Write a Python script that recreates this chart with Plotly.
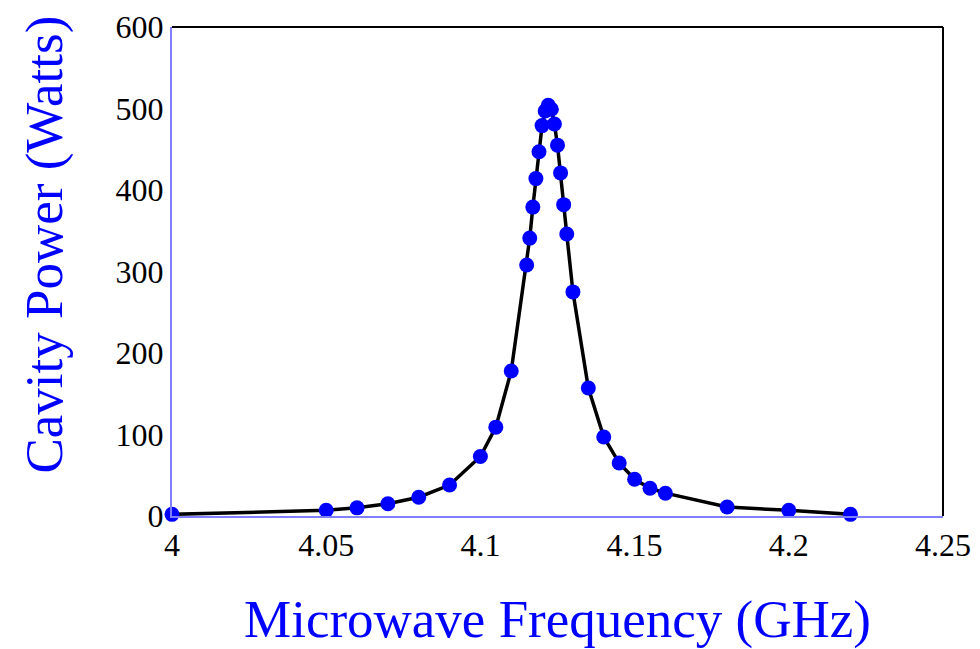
import plotly.graph_objects as go

freq_ghz = [4.00, 4.05, 4.06, 4.07, 4.08, 4.09, 4.10, 4.105, 4.11, 4.115,
            4.116, 4.117, 4.118, 4.119, 4.120, 4.121, 4.122, 4.123, 4.124,
            4.125, 4.126, 4.127, 4.128, 4.13, 4.135, 4.14, 4.145, 4.15,
            4.155, 4.16, 4.18, 4.20, 4.22]
power_w = [2, 7, 10, 15, 23, 38, 73, 109, 178, 308,
           341, 379, 414, 447, 479, 497, 504, 499, 481,
           455, 421, 382, 346, 275, 157, 97, 65, 45,
           34, 28, 11, 7, 2]

x_ticks = [4.0, 4.05, 4.1, 4.15, 4.2, 4.25]
x_tick_labels = ["4", "4.05", "4.1", "4.15", "4.2", "4.25"]
y_ticks = [0, 100, 200, 300, 400, 500, 600]
x_title = "Microwave Frequency (GHz)"
y_title = "Cavity Power (Watts)"

fig = go.Figure()
fig.add_trace(go.Scatter(
    x=freq_ghz, y=power_w, mode="lines+markers",
    line=dict(color="black", width=3.5),
    marker=dict(color="#0000ff", size=15),
    showlegend=False, cliponaxis=False,
))

serif = "Liberation Serif, Times New Roman, serif"
fig.update_layout(
    width=972, height=641,
    margin=dict(l=164, r=37, t=19, b=133, autoexpand=False),
    paper_bgcolor="white", plot_bgcolor="white",
    font=dict(family=serif, color="black"),
    xaxis=dict(
        range=[4.0, 4.25], tickvals=x_ticks, ticktext=x_tick_labels,
        showgrid=False, zeroline=False, showline=True, linecolor="#8080ff",
        linewidth=2, ticks="", automargin=False,
        tickfont=dict(size=32, family=serif, color="black"),
        title=dict(text=x_title, font=dict(size=53, family=serif, color="#0000ff"), standoff=41),
    ),
    yaxis=dict(
        range=[0, 600], tickvals=y_ticks,
        showgrid=False, zeroline=False, showline=True, linecolor="#8080ff",
        linewidth=2, ticks="", automargin=False,
        tickfont=dict(size=32, family=serif, color="black"),
    ),
    annotations=[
        dict(text=y_title, xref="paper", yref="paper", x=0, y=0.555,
             xanchor="center", yanchor="middle", xshift=-127, textangle=-90,
             showarrow=False, font=dict(size=53, family=serif, color="#0000ff")),
    ],
    shapes=[
        dict(type="line", xref="paper", yref="paper", x0=0, x1=1, y0=1, y1=1,
             line=dict(color="black", width=2)),
        dict(type="line", xref="paper", yref="paper", x0=1, x1=1, y0=0, y1=1,
             line=dict(color="black", width=2)),
    ],
)

fig.write_html("out.html")
